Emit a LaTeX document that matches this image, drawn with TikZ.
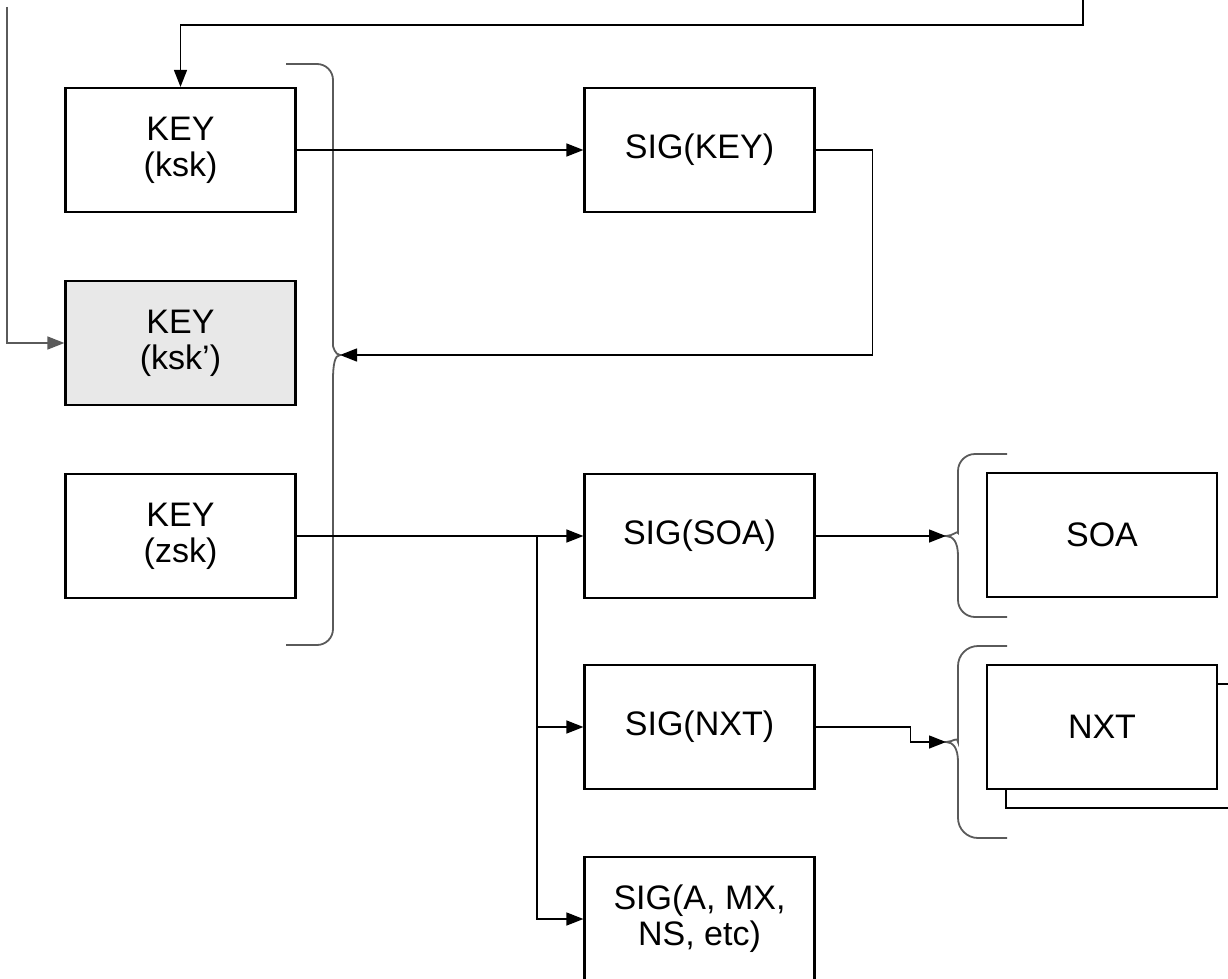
\documentclass[tikz,border=0pt]{standalone}
\usepackage{fontspec}
\setmainfont{Liberation Sans}
\usetikzlibrary{arrows.meta}
\definecolor{keygray}{HTML}{E8E8E8}
\definecolor{bracegray}{HTML}{5A5A5A}
\tikzset{
  box/.style={draw, line width=2.2pt, minimum width=230pt, minimum height=124pt,
    align=center, inner sep=0pt, fill=white, font=\fontsize{34}{36}\selectfont},
  arr/.style={-{Triangle[length=17pt,width=13pt]}, line width=1.4pt},
  plain/.style={line width=1.4pt},
  bracel/.style={line width=1.8pt, draw=bracegray},
}
\begin{document}
\begin{tikzpicture}[x=1pt,y=-1pt]
\useasboundingbox (0,0) rectangle (1228,979);
\clip (0,0) rectangle (1228,979);
% boxes
\node[box] (ksk) at (180.5,150) {KEY\\(ksk)};
\node[box] (sigkey) at (699.5,150) {SIG(KEY)};
\node[box, fill=keygray] (ksk2) at (180.5,343) {KEY\\(ksk’)};
\node[box] (zsk) at (180.5,536) {KEY\\(zsk)};
\node[box] (sigsoa) at (699.5,536) {SIG(SOA)};
\node[box] (signxt) at (699.5,727) {SIG(NXT)};
\node[box] (sigall) at (699.5,919) {SIG(A, MX,\\NS, etc)};
\node[box] (soa) at (1102,535) {SOA};
\node[box] (nxtback) at (1121,746) {};
\node[box] (nxt) at (1102,727) {NXT};
% free ends
\coordinate (tl) at (7,7);
\coordinate (tr) at (1083,0);
\coordinate (b1tip) at (340,355);
\coordinate (b2tip) at (946,536);
\coordinate (b3tip) at (946,742);
\coordinate (split) at (537,536);
% braces
\draw[bracel] (286,64) [rounded corners=16pt] -- (333,64) -- (333,330) [sharp corners]
  .. controls (333,346) and (335,355) .. (b1tip)
  .. controls (335,355) and (333,364) .. (333,380)
  [rounded corners=16pt] -- (333,645) -- (286,645);
\draw[bracel] (1007,454) [rounded corners=17pt] -- (958,454) -- (958,516) [sharp corners]
  .. controls (958,530) and (953,536) .. (b2tip)
  .. controls (953,536) and (958,542) .. (958,556)
  [rounded corners=17pt] -- (958,617) -- (1007,617);
\draw[bracel] (1007,646) [rounded corners=20pt] -- (958,646) -- (958,722) [sharp corners]
  .. controls (958,736) and (953,742) .. (b3tip)
  .. controls (953,742) and (958,748) .. (958,762)
  [rounded corners=20pt] -- (958,838) -- (1007,838);
% connectors
\draw[arr, draw=bracegray] (tl) |- (ksk2.west);
\draw[arr] (tr) -- ++(0,25) -| (ksk.north);
\draw[arr] (ksk.east) -- (sigkey.west);
\draw[arr] (sigkey.east) -- ++(57,0) |- (b1tip);
\draw[arr] (zsk.east) -- (sigsoa.west);
\draw[plain] (split) -- (537,919);
\draw[arr] (split) |- (signxt.west);
\draw[arr] (split) |- (sigall.west);
\draw[arr] (sigsoa.east) -- (b2tip);
\draw[arr] (signxt.east) -- ++(95,0) |- (b3tip);
\end{tikzpicture}
\end{document}
